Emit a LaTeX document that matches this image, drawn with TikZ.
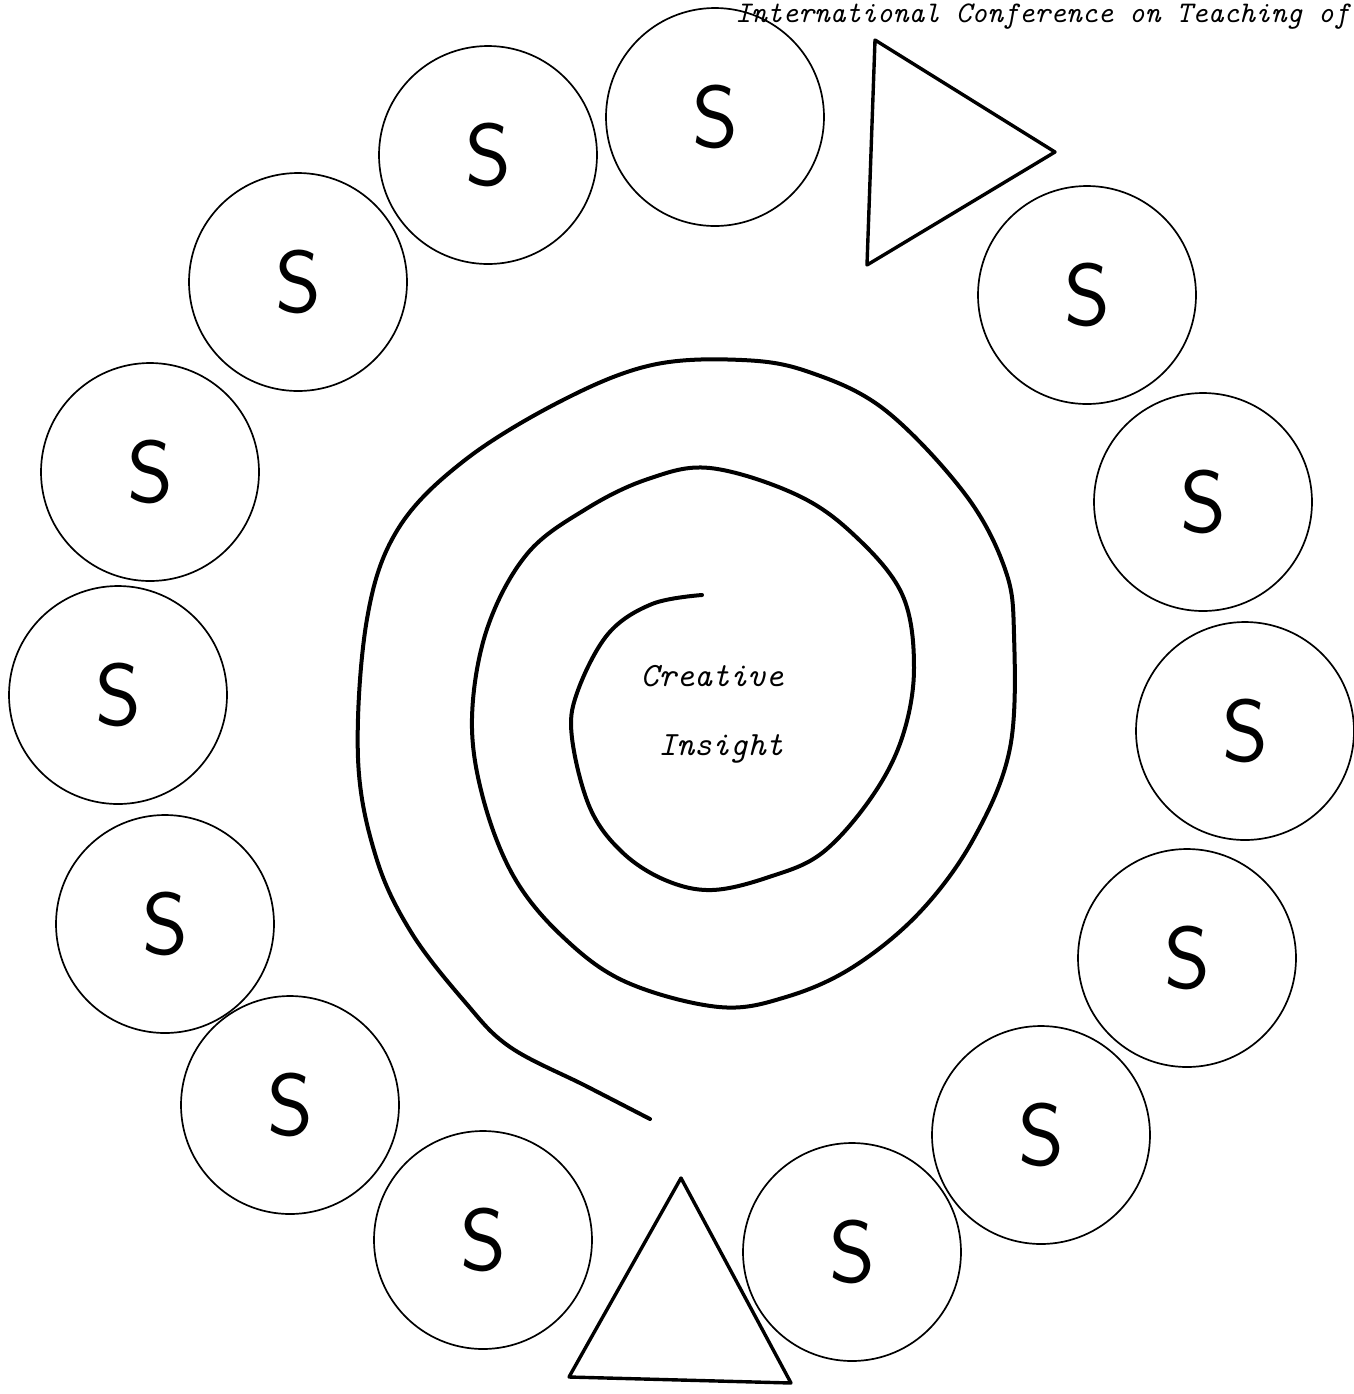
\documentclass[tikz,border=0pt]{standalone}

\tikzset{
  seat/.style={draw, circle, line width=0.85pt, minimum size=216pt, inner sep=0pt,
    font=\sffamily\fontsize{44}{46}\selectfont},
  spiral/.style={line width=2pt, line cap=round, line join=round},
  tri/.style={line width=1.7pt, line join=round},
  insight/.style={font=\ttfamily\itshape\fontsize{17}{20}\selectfont, inner sep=0pt},
  header/.style={font=\ttfamily\itshape\fontsize{15}{18}\selectfont, inner sep=0pt, anchor=base east}
}

\begin{document}
\begin{tikzpicture}[x=0.5pt, y=-0.5pt]
  \useasboundingbox (0,0) rectangle (1354,1394);
  \fill[white] (0,0) rectangle (1354,1394);

  \node[header] (head) at (1350,22) {International Conference on Teaching of};

  \foreach \x/\y [count=\i] in {715/117, 488/155, 298/282, 150/472, 118/695,
      165/924, 290/1105, 483/1240, 852/1252, 1041/1135, 1187/958,
      1245/731, 1203/502, 1087/295} {
    \node[seat, minimum size=109pt] (s\i) at (\x,\y) {S};
  }

  \draw[tri] (875,40) -- (1055,152) -- (867,265) -- cycle;
  \draw[tri] (681,1178) -- (791,1383) -- (569,1377) -- cycle;

  \draw[spiral] plot[smooth, tension=0.6] coordinates {
    (702,595) (652,604) (608,634) (577,693) (572,738) (590,808) (622,852)
    (665,880) (712,890) (769,877) (822,853) (871,798) (902,738) (914,668) (902,594)
    (853,534) (795,494) (710,468) (648,479) (586,509) (527,554) (487,629)
    (472,718) (483,798) (514,877) (563,937) (626,982) (719,1007) (786,997)
    (853,967) (920,912) (974,838) (1010,748) (1014,634) (1005,569) (965,494)
    (885,410) (809,372) (742,360) (652,365) (563,400) (465,460) (398,529)
    (367,619) (358,758) (376,857) (411,932) (465,1002) (510,1047) (586,1086)
    (650,1119)};

  \node[insight, anchor=base] (ci) at (712,686) {Creative};
  \node[insight, anchor=base] (in) at (721,755) {Insight};
\end{tikzpicture}
\end{document}
